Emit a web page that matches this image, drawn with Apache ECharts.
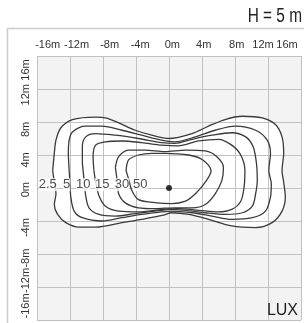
<!DOCTYPE html>
<html>
<head>
<meta charset="utf-8">
<script src="https://cdn.jsdelivr.net/npm/echarts@6/dist/echarts.min.js"></script>
<style>
  html, body { margin: 0; padding: 0; background: #fff; }
  #main { width: 304px; height: 323px; }
</style>
</head>
<body>
<div id="main"></div>
<script>
var FONT = "'Liberation Sans', Arial, sans-serif";

// isolux levels and where their labels sit (metres)
var levels = ['2.5', '5', '10', '15', '30', '50'];
var labelX = [-14.7, -12.4, -10.4, -8.1, -5.7, -3.5];
var labelY = 0.4;

// axis tick labels and the spot (metres) each one is printed at
var tickLabels = ['-16m', '-12m', '-8m', '-4m', '0m', '4m', '8m', '12m', '16m'];
var xLabelPos = [-14.7, -11.2, -7.2, -3.5, 0.4, 4.2, 8.2, 11.4, 14.3];
var yLabelPos = [-14.3, -11.2, -8.5, -4.8, -0.2, 3.4, 7.1, 11.3, 14.3];

// lamp position
var lamp = [0, 0];

// contour outlines, [x, y] in metres
var c2_5 = [[-14.1, 2.1], [-13.9, 4.2], [-13.7, 5.8], [-13.1, 7.3], [-11.7, 8.3], [-8.9, 8.6], [-7.7, 8.5],
    [-6.1, 7.9], [-4.1, 7.0], [-2.1, 6.4], [0, 6.0], [2.8, 6.6], [4.8, 7.5], [6.8, 8.3], [8.9, 8.7],
    [11.3, 8.5], [12.9, 7.7], [13.7, 6.2], [13.9, 4.2], [13.7, 2.1], [13.9, 0.7], [14.1, -1.1],
    [13.7, -2.8], [12.5, -4.2], [10.5, -4.8], [7.6, -4.6], [4.8, -3.8], [2.4, -3.2], [0.3, -3.0],
    [-0.7, -3.3], [-3.3, -3.8], [-5.7, -4.2], [-8.9, -4.75], [-10.9, -4.75], [-12.5, -4.2],
    [-13.5, -3.2], [-13.9, -2.0], [-13.7, -0.7], [-13.9, 0.7]];
var c5 = [[-12.1, 2.1], [-12.2, 4.2], [-12.1, 5.8], [-11.7, 6.8], [-10.1, 7.5], [-8.1, 7.5], [-5.7, 7.0],
    [-3.3, 6.4], [-0.9, 5.8], [0.7, 5.6], [3.2, 6.2], [5.6, 7.0], [8.0, 7.5], [10.5, 7.0], [11.9, 5.8],
    [12.3, 4.2], [12.1, 2.1], [12.4, 0.5], [12.3, -1.1], [11.7, -2.8], [10.1, -3.6], [7.6, -3.8],
    [5.2, -3.4], [2.8, -3.0], [0.3, -2.8], [-0.9, -2.9], [-3.3, -3.2], [-5.7, -3.6], [-8.1, -4.0],
    [-10.5, -3.6], [-11.5, -2.8], [-11.9, -1.1], [-12.0, 0.5]];
var c10 = [[-10.5, 3.0], [-10.5, 5.0], [-10.1, 6.2], [-8.9, 6.6], [-6.5, 6.4], [-3.7, 6.0], [-0.9, 5.5],
    [0.7, 5.4], [2.8, 5.9], [5.2, 6.4], [7.6, 6.7], [9.3, 6.2], [10.2, 5.0], [10.6, 3.0], [10.7, 0.9],
    [10.5, -0.7], [10.1, -2.2], [8.9, -3.0], [6.8, -3.2], [4.4, -3.0], [2.0, -2.7], [0, -2.6],
    [-0.9, -2.7], [-4.1, -3.1], [-6.5, -3.4], [-8.5, -3.2], [-9.7, -2.4], [-10.1, -0.9], [-10.3, 1.0]];
var c15 = [[-9.1, 2.1], [-9.2, 3.8], [-8.9, 5.2], [-7.7, 5.6], [-5.7, 5.7], [-3.3, 5.5], [-0.9, 5.2],
    [1.1, 5.1], [3.6, 5.7], [6.0, 5.9], [7.6, 5.2], [8.7, 4.0], [9.2, 2.1], [9.1, 0.1], [8.7, -1.6],
    [7.6, -2.6], [6.0, -2.9], [3.6, -2.7], [1.1, -2.5], [-0.9, -2.6], [-3.7, -2.9], [-6.1, -2.8],
    [-7.7, -2.2], [-8.5, -0.9], [-8.9, 0.8]];
var c30 = [[-6.5, 2.5], [-6.1, 3.8], [-4.9, 4.6], [-2.9, 4.6], [-0.5, 4.4], [2.0, 4.6], [4.4, 4.5],
    [5.8, 3.8], [6.6, 2.5], [6.4, 0.9], [5.6, -0.7], [4.4, -2.0], [2.8, -2.4], [0.7, -2.4], [-1.7, -2.5],
    [-3.7, -2.4], [-5.3, -1.8], [-6.1, -0.7], [-6.3, 1.0]];
var c50 = [[-5.2, 2.1], [-4.9, 3.4], [-3.7, 4.0], [-2.1, 4.2], [-0.5, 4.2], [2.4, 4.0], [4.1, 3.4],
    [5.1, 2.1], [4.4, 0.7], [3.2, -0.7], [2.0, -1.6], [0.3, -1.9], [-1.5, -1.8], [-3.7, -1.4],
    [-4.5, -0.3], [-4.9, 1.1]];

var contours = [c2_5, c5, c10, c15, c30, c50];

function closed(pts) {
    return pts.concat([pts[0]]);
}

var series = [];

// white fill inside the outermost contour
series.push({
    type: 'custom',
    z: 1,
    silent: true,
    data: [0],
    renderItem: function(params, api) {
        var pts = c2_5.map(function(p) { return api.coord(p); });
        return {
            type: 'polygon',
            shape: { points: pts, smooth: 0.3 },
            style: { fill: '#ffffff' }
        };
    }
});

contours.forEach(function(c, i) {
    series.push({
        type: 'line',
        name: levels[i],
        z: 4,
        data: closed(c),
        smooth: 0.3,
        symbol: 'none',
        lineStyle: { color: '#3a3a3a', width: 1.3 },
        silent: true,
        animation: false
    });
});

series.push({
    type: 'scatter',
    z: 6,
    symbol: 'circle',
    symbolSize: 0,
    data: levels.map(function(l, i) { return [labelX[i], labelY, l]; }),
    label: {
        show: true,
        position: 'inside',
        formatter: function(p) { return p.value[2]; },
        fontFamily: FONT,
        fontSize: 13,
        color: '#222',
        backgroundColor: '#ffffff',
        padding: [0, 0]
    },
    silent: true
});

series.push({
    type: 'scatter',
    z: 7,
    symbol: 'circle',
    symbolSize: 6,
    itemStyle: { color: '#000' },
    data: [lamp],
    silent: true
});

function makeAxis(pos, extra) {
    return echarts.util.merge({
        type: 'value',
        min: -16,
        max: 16,
        interval: 4,
        z: 3,
        axisLine: { show: false },
        axisTick: { show: false },
        splitLine: { show: true, lineStyle: { color: '#c2c2c2', width: 1 } },
        axisLabel: {
            fontFamily: FONT,
            fontSize: 11,
            color: '#333',
            margin: 6,
            customValues: pos,
            hideOverlap: false,
            formatter: function(v) {
                var i = pos.indexOf(v);
                return i >= 0 ? tickLabels[i] : '';
            }
        }
    }, extra, true);
}

var option = {
    animation: false,
    backgroundColor: '#fff',
    grid: {
        left: 37, top: 56, width: 264, height: 264,
        show: true, backgroundColor: '#f3f3f3', borderWidth: 0
    },
    xAxis: makeAxis(xLabelPos, { position: 'top' }),
    yAxis: makeAxis(yLabelPos, { axisLabel: { rotate: 90 } }),
    graphic: [
        {
            type: 'rect', z: 0, silent: true,
            shape: { x: 7.5, y: 28.5, width: 310, height: 310 },
            style: { fill: null, stroke: '#cccccc', lineWidth: 1.5 }
        },
        {
            type: 'text', x: 302, y: 6, scaleX: 0.77, z: 10,
            style: { text: 'H = 5 m', font: '20px ' + FONT, fill: '#222',
                textAlign: 'right', textVerticalAlign: 'top' }
        },
        {
            type: 'text', x: 298, y: 303, z: 10,
            style: { text: 'LUX', font: '16px ' + FONT, fill: '#222',
                textAlign: 'right', textVerticalAlign: 'top' }
        }
    ],
    series: series
};

var myChart = echarts.init(document.getElementById('main'));
myChart.setOption(option);
</script>
</body>
</html>
